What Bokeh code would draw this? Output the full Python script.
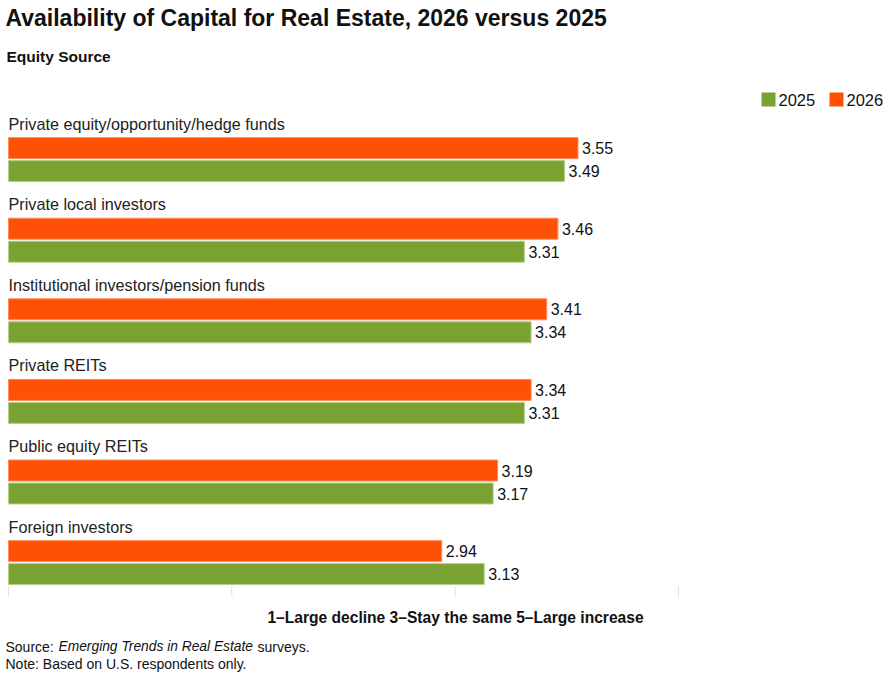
from bokeh.plotting import figure
from bokeh.models import Range1d, ColumnDataSource, Label
from bokeh.embed import file_html
from bokeh.resources import INLINE
from bokeh.core.properties import value

# ---- data ----
categories = [
    "Private equity/opportunity/hedge funds",
    "Private local investors",
    "Institutional investors/pension funds",
    "Private REITs",
    "Public equity REITs",
    "Foreign investors",
]
values_2026 = [3.55, 3.46, 3.41, 3.34, 3.19, 2.94]
values_2025 = [3.49, 3.31, 3.34, 3.31, 3.17, 3.13]
series_names = ["2025", "2026"]
axis_ticks = [1, 2, 3, 4]
scale_min = 1

title_text = "Availability of Capital for Real Estate, 2026 versus 2025"
subtitle_text = "Equity Source"
axis_title = "1\u2013Large decline 3\u2013Stay the same 5\u2013Large increase"
note_text = "Note: Based on U.S. respondents only."

# ---- styling / layout ----
FONT = "Liberation Sans"
ORANGE = "#FF5105"
GREEN = "#79A232"
W, H = 886, 673
LEFT = 8            # pixel where the scale starts
PX_PER_UNIT = 223.33
GROUP_STEP = 80.6
FIRST_ORANGE = 147.6
BAR_H = 21
GAP = 2
BASE_FIX = -6       # alphabetic baseline correction

x0v = scale_min - LEFT / PX_PER_UNIT
p = figure(width=W, height=H, output_backend="svg", toolbar_location=None,
           x_range=Range1d(x0v, x0v + W / PX_PER_UNIT),
           y_range=Range1d(H, 0), min_border=0,
           x_axis_location=None, y_axis_location=None)
p.outline_line_color = None
p.grid.visible = False
p.background_fill_color = "white"
p.border_fill_color = "white"

n = len(categories)
y26 = [FIRST_ORANGE + GROUP_STEP * i for i in range(n)]
y25 = [y + BAR_H + GAP for y in y26]
ylab = [y - BAR_H / 2 - 8 + BASE_FIX for y in y26]

src26 = ColumnDataSource(dict(y=y26, v=values_2026, t=[f"{v:.2f}" for v in values_2026]))
src25 = ColumnDataSource(dict(y=y25, v=values_2025, t=[f"{v:.2f}" for v in values_2025]))
srccat = ColumnDataSource(dict(y=ylab, x=[scale_min] * n, t=categories))

p.hbar(y="y", left=scale_min, right="v", height=BAR_H, source=src26,
       fill_color=ORANGE, line_color="#FF8A5A", line_width=1)
p.hbar(y="y", left=scale_min, right="v", height=BAR_H, source=src25,
       fill_color=GREEN, line_color="#B5D08A", line_width=1)

for src in (src26, src25):
    p.text(x="v", y="y", text="t", source=src, x_offset=4,
           text_font=value(FONT), text_font_size="16px", text_color="#111111",
           text_baseline="middle", text_align="left")

p.text(x="x", y="y", text="t", source=srccat, x_offset=0,
       text_font=value(FONT), text_font_size="16.2px", text_color="#222222",
       text_baseline="alphabetic", text_align="left")

# faint tick marks
p.segment(x0=axis_ticks, x1=axis_ticks, y0=[586] * len(axis_ticks), y1=[596] * len(axis_ticks),
          line_color="#d0d0d0", line_width=1, line_dash="2 1")

def lab(x, y, text, size, style="normal", align="left"):
    p.add_layout(Label(x=x, y=y + BASE_FIX, x_units="screen", y_units="data", text=text,
                       text_font=FONT, text_font_size=size, text_font_style=style,
                       text_color="#111111", text_baseline="alphabetic", text_align=align))

# titles
lab(5, 23.5, title_text, "23px", "bold")
lab(6, 62, subtitle_text, "15.5px", "bold")

# legend
for i, (name, col) in enumerate(zip(series_names, [GREEN, ORANGE])):
    lx = 761 + i * 68
    p.rect(x=[x0v + (lx + 7) / PX_PER_UNIT], y=[99], width=14, height=14,
           width_units="screen", height_units="screen", fill_color=col, line_color=None)
    p.add_layout(Label(x=lx + 17, y=99.5, x_units="screen", y_units="data", text=name,
                       text_font=FONT, text_font_size="16.5px", text_color="#111111",
                       text_baseline="middle"))

# axis title
lab(455, 623, axis_title, "15.6px", "bold", "center")

# footnotes
lab(5, 652, "Source:", "14px")
lab(58, 652, "Emerging Trends in Real Estate", "13.8px", "italic")
lab(257, 652, "surveys.", "14px")
lab(5, 669, note_text, "14px")

open("out.html", "w").write(file_html(p, INLINE))
